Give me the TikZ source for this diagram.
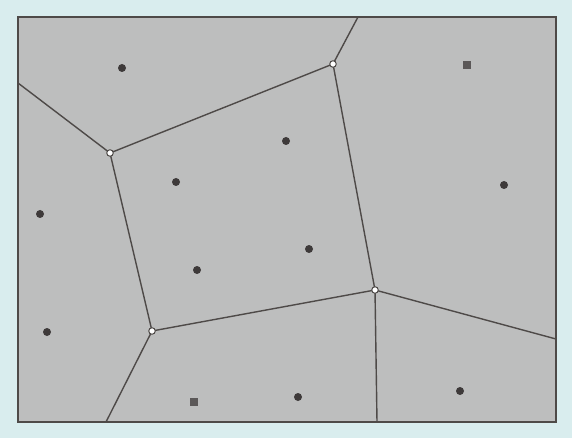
\documentclass[tikz,border=0pt]{standalone}
\definecolor{bgc}{HTML}{D9EDEE}
\definecolor{boxc}{HTML}{BDBEBE}
\definecolor{linec}{HTML}{4E4A48}
\definecolor{dotc}{HTML}{3E3A3A}
\begin{document}
\begin{tikzpicture}[x=1pt,y=-1pt,
  edge/.style={draw=linec,line width=1.4pt},
  vtx/.style={circle,draw=linec,fill=white,line width=1pt,inner sep=0pt,minimum size=6.5pt},
  site/.style={circle,fill=dotc,inner sep=0pt,minimum size=8pt},
  sqsite/.style={rectangle,fill=dotc!85,inner sep=0pt,minimum size=7.5pt}]
\useasboundingbox (0,0) rectangle (572,438);
\fill[bgc] (0,0) rectangle (572,438);
\fill[boxc] (18,17) rectangle (556,422);
% boundary coordinates
\coordinate (L) at (18,83);
\coordinate (T) at (358,17);
\coordinate (R) at (556,339);
\coordinate (B1) at (106,422);
\coordinate (B2) at (377,422);
% vertices
\coordinate (A) at (110,153);
\coordinate (Bv) at (333,64);
\coordinate (C) at (375,290);
\coordinate (D) at (152,331);
\draw[edge] (L) -- (A);
\draw[edge] (A) -- (Bv);
\draw[edge] (Bv) -- (T);
\draw[edge] (A) -- (D);
\draw[edge] (Bv) -- (C);
\draw[edge] (C) -- (D);
\draw[edge] (C) -- (R);
\draw[edge] (C) -- (B2);
\draw[edge] (D) -- (B1);
\draw[draw=linec,line width=2pt] (18,17) rectangle (556,422);
\node[vtx] (vA) at (A) {};
\node[vtx] (vB) at (Bv) {};
\node[vtx] (vC) at (C) {};
\node[vtx] (vD) at (D) {};
% sites
\node[site] (s1) at (122,68) {};
\node[sqsite] (s2) at (467,65) {};
\node[site] (s3) at (286,141) {};
\node[site] (s4) at (176,182) {};
\node[site] (s5) at (40,214) {};
\node[site] (s6) at (504,185) {};
\node[site] (s7) at (309,249) {};
\node[site] (s8) at (197,270) {};
\node[site] (s9) at (47,332) {};
\node[sqsite] (s10) at (194,402) {};
\node[site] (s11) at (298,397) {};
\node[site] (s12) at (460,391) {};
\end{tikzpicture}
\end{document}
